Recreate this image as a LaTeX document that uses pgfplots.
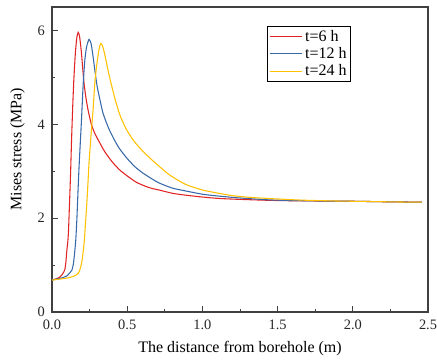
\documentclass[border=0pt]{standalone}
\usepackage{fontspec}
\setmainfont{Liberation Serif}
\usepackage{pgfplots}
\pgfplotsset{compat=1.18}
\definecolor{cred}{RGB}{225,35,35}
\definecolor{cblue}{RGB}{55,105,170}
\definecolor{cyel}{RGB}{255,192,0}
\begin{document}
\begin{tikzpicture}
\begin{axis}[
  scale only axis,
  width=282pt, height=228.75pt,
  xmin=0, xmax=2.5, ymin=0, ymax=6.5,
  xtick={0,0.5,1,1.5,2,2.5},
  ytick={0,2,4,6},
  minor x tick num=1,
  minor y tick num=1,
  tick pos=left,
  tick align=inside,
  major tick length=4.5pt,
  minor tick length=2.5pt,
  every tick/.style={black!75, line width=0.7pt},
  axis line style={black!75, line width=0.9pt},
  /pgf/number format/assume math mode=true,
  xticklabel={\pgfmathprintnumber[fixed,fixed zerofill,precision=1]{\tick}},
  yticklabel={\pgfmathprintnumber[fixed,precision=0]{\tick}},
  tick label style={font=\fontsize{10.8}{12}\selectfont, black!85},
  xticklabel style={yshift=-2.5pt},
  yticklabel style={xshift=-1.8pt},
  xlabel={The distance from borehole (m)},
  ylabel={Mises stress (MPa)},
  label style={font=\fontsize{12}{14}\selectfont},
  xlabel style={at={(axis description cs:0.5,-0.121)}, anchor=center},
  ylabel style={at={(axis description cs:-0.092,0.534)}, anchor=center},
  legend style={at={(0.573,0.938)}, anchor=north west, draw=black, line width=0.6pt,
    font=\fontsize{12}{14}\selectfont, inner sep=1pt, row sep=-1pt,
    legend cell align=left},
  legend image code/.code={\draw[#1, line width=0.8pt] (0cm,0cm) -- (0.85cm,0cm);},
  every axis plot/.append style={line width=0.8pt, smooth, tension=0.35},
]
\addplot[cred] coordinates {
(0,0.68) (0.03,0.71) (0.05,0.74) (0.066,0.79) (0.084,0.89) (0.092,1.05) (0.099,1.32)
(0.106,1.53) (0.11,1.75) (0.118,2.45) (0.124,3.0) (0.130,3.66) (0.138,4.4) (0.145,4.94)
(0.155,5.5) (0.165,5.85) (0.174,5.96) (0.183,5.88) (0.195,5.55) (0.211,4.94) (0.224,4.60)
(0.240,4.30) (0.26,4.02) (0.28,3.84) (0.305,3.68) (0.35,3.42) (0.40,3.20) (0.449,3.03)
(0.50,2.90) (0.558,2.77) (0.62,2.68) (0.668,2.63) (0.712,2.60) (0.80,2.53) (0.888,2.49)
(1.0,2.45) (1.108,2.42) (1.25,2.40) (1.44,2.38) (1.6,2.37) (1.8,2.365) (2.0,2.36)
(2.2,2.35) (2.46,2.34)
};
\addlegendentry{t=6 h}
\addplot[cblue] coordinates {
(0,0.68) (0.04,0.71) (0.07,0.73) (0.099,0.77) (0.12,0.84) (0.132,0.89) (0.142,1.02)
(0.15,1.25) (0.158,1.53) (0.165,1.95) (0.172,2.5) (0.18,3.1) (0.189,3.66) (0.196,4.09)
(0.207,4.83) (0.218,5.36) (0.23,5.65) (0.246,5.81) (0.26,5.72) (0.275,5.40) (0.285,5.15)
(0.299,4.83) (0.317,4.55) (0.338,4.25) (0.36,4.05) (0.383,3.87) (0.416,3.66) (0.449,3.48)
(0.50,3.27) (0.55,3.10) (0.60,2.97) (0.668,2.83) (0.712,2.75) (0.80,2.64) (0.888,2.58)
(1.0,2.51) (1.108,2.47) (1.25,2.43) (1.44,2.39) (1.6,2.375) (1.8,2.365) (2.0,2.36)
(2.2,2.35) (2.46,2.34)
};
\addlegendentry{t=12 h}
\addplot[cyel] coordinates {
(0,0.68) (0.05,0.70) (0.11,0.73) (0.15,0.77) (0.176,0.83) (0.19,0.95) (0.2,1.1)
(0.208,1.3) (0.215,1.53) (0.222,1.85) (0.235,2.5) (0.246,3.17) (0.257,3.66) (0.262,3.87)
(0.273,4.3) (0.284,4.85) (0.295,5.2) (0.31,5.55) (0.323,5.72) (0.335,5.68) (0.35,5.50)
(0.368,5.22) (0.383,5.0) (0.40,4.78) (0.42,4.53) (0.449,4.22) (0.475,4.02) (0.50,3.86)
(0.53,3.71) (0.558,3.59) (0.60,3.44) (0.668,3.23) (0.778,2.93) (0.888,2.72) (1.0,2.60)
(1.108,2.53) (1.2,2.48) (1.33,2.44) (1.55,2.40) (1.7,2.38) (1.9,2.365) (2.1,2.355)
(2.3,2.345) (2.46,2.34)
};
\addlegendentry{t=24 h}
\end{axis}
\pgfresetboundingbox
\path ([shift={(-39pt,-37.5pt)}]current axis.south west) rectangle ([shift={(6.75pt,5.25pt)}]current axis.north east);
\end{tikzpicture}
\end{document}
